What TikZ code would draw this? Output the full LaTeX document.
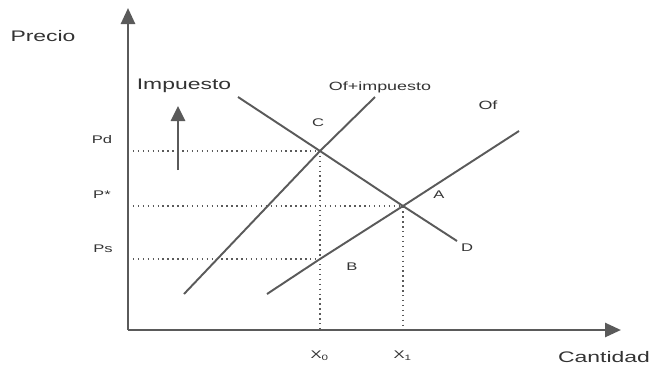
\documentclass[tikz,border=0pt]{standalone}
\usepackage{fontspec}
\setmainfont{Liberation Sans}
\usetikzlibrary{positioning,calc,arrows.meta}
\definecolor{lineGray}{HTML}{5A5A5A}
\definecolor{txtGray}{HTML}{333333}
\newcommand{\wide}[1]{\scalebox{1.5}[1]{#1}}

\begin{document}
\begin{tikzpicture}[
    x=0.02cm, y=-0.02cm,
    ax/.style={-{Triangle[length=0.32cm, width=0.28cm]}, line width=1.5pt, lineGray},
    up/.style={-{Triangle[length=0.3cm, width=0.28cm]}, line width=1.5pt, lineGray},
    curve/.style={line width=1.1pt, lineGray},
    guide/.style={dotted, line width=0.8pt, lineGray},
    big/.style={font=\fontsize{8.7}{10}\selectfont, text=txtGray, inner sep=0pt},
    mid/.style={font=\fontsize{6.8}{8}\selectfont, text=txtGray, inner sep=0pt},
    txt/.style={font=\fontsize{6.3}{7}\selectfont, text=txtGray, inner sep=0pt},
]
\useasboundingbox (0,0) rectangle (656,369);
% axes
\coordinate (O) at (128,330);
\coordinate (yTop) at (128,8);
\coordinate (xEnd) at (621,330);
\draw[ax] (O) -- (yTop);
\draw[ax] (O) -- (xEnd);
% points
\coordinate (C) at (320,151);
\coordinate (A) at (403,206);
\coordinate (B) at (320,259);
% guide lines
\draw[guide] (O |- C) -- (C) -- (C |- O);
\draw[guide] (O |- A) -- (A) -- (A |- O);
\draw[guide] (O |- B) -- (B);
% demand and supply
\coordinate (dTop) at (238,97);
\coordinate (dEnd) at (457,241);
\draw[curve] (dTop) -- (C) -- (A) -- (dEnd);
\coordinate (tBot) at (184,294);
\coordinate (tTop) at (375,97);
\draw[curve] (tBot) -- (C) -- (tTop);
\coordinate (sBot) at (267,294);
\coordinate (sTop) at (519,131);
\draw[curve] (sBot) -- (B) -- (A) -- (sTop);
% tax arrow
\coordinate (arrBot) at (178,170);
\coordinate (arrTop) at (178,106);
\draw[up] (arrBot) -- (arrTop);
% labels
\node[big] (precio) at (43,36) {\wide{Precio}};
\node[big] (cantidad) at (604,357) {\wide{Cantidad}};
\node[big] (impuesto) at (184,86) {\wide{Impuesto}};
\node[mid] (ofImp) at (380,87) {\wide{Of+impuesto}};
\node[mid] (of) at (488,105) {\wide{Of}};
\node[txt] (lblC) at (318,123) {\wide{C}};
\node[txt] (lblA) at (439,195) {\wide{A}};
\node[txt] (lblD) at (467,248) {\wide{D}};
\node[txt] (lblB) at (352,267) {\wide{B}};
\node[txt] (pd) at (102,140) {\wide{Pd}};
\node[txt] (pstar) at (102,195) {\wide{P*}};
\node[txt] (ps) at (103,249) {\wide{Ps}};
\node[txt] (x0) at (320,356) {\wide{X\textsubscript{0}}};
\node[txt] (x1) at (403,356) {\wide{X\textsubscript{1}}};
\end{tikzpicture}
\end{document}
